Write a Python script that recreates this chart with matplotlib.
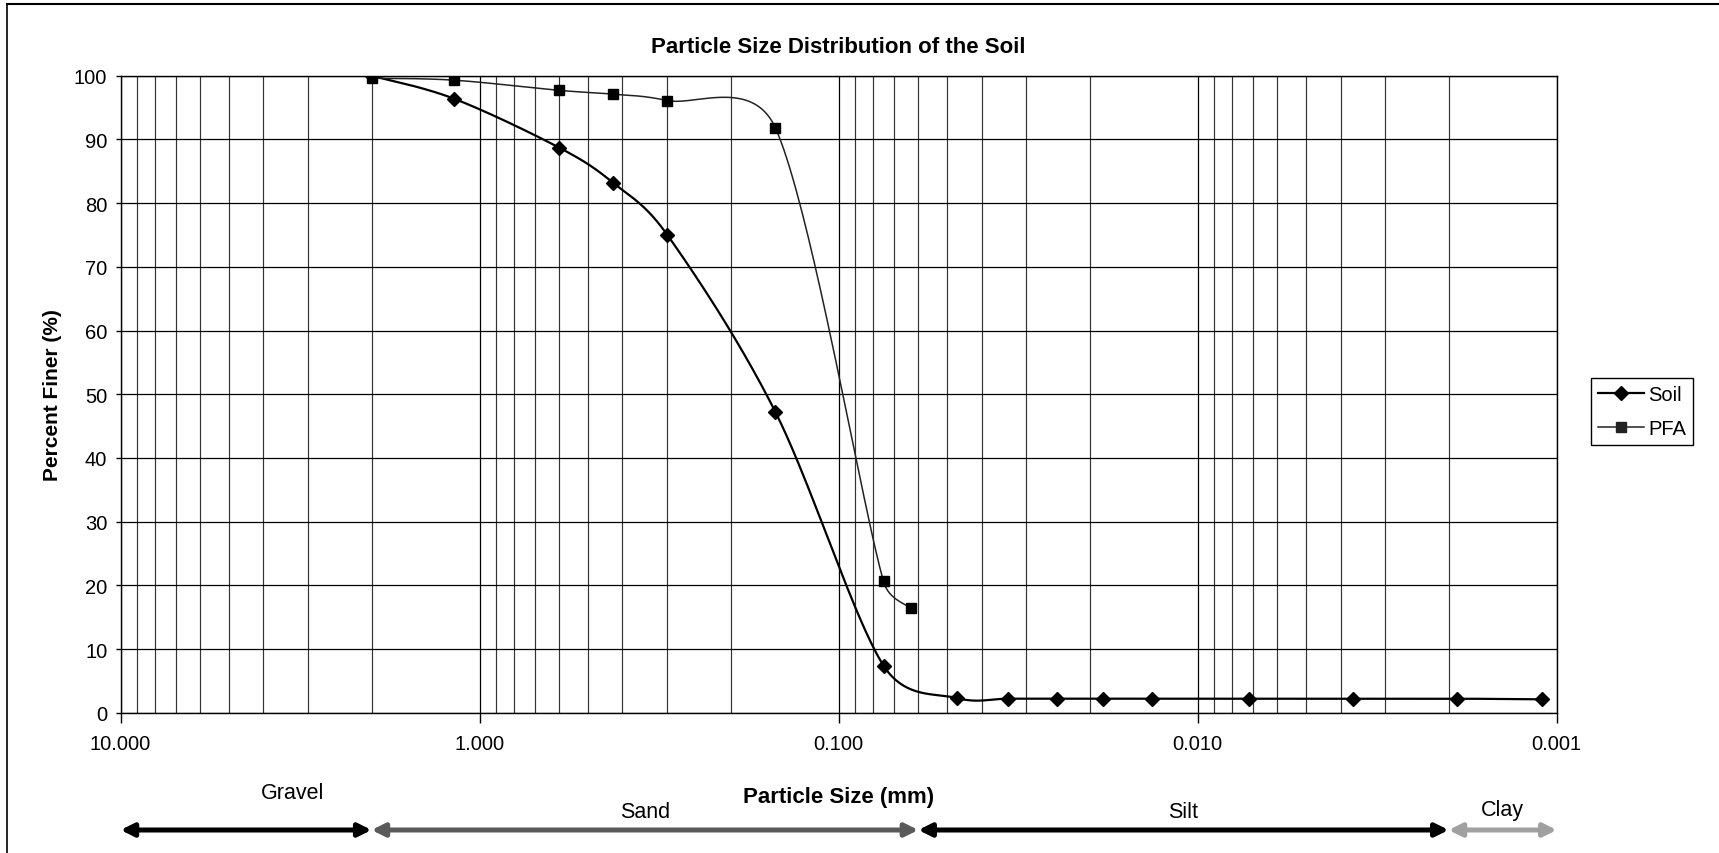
import numpy as np
import matplotlib
matplotlib.use("Agg")
import matplotlib.pyplot as plt
import matplotlib.transforms as mtransforms
from matplotlib.lines import Line2D
from matplotlib.ticker import FixedLocator, FuncFormatter, LogLocator, NullFormatter

plt.rcParams['font.family'] = ['Liberation Sans', 'DejaVu Sans']

# Sieve analysis + hydrometer results (particle size in mm, percent finer)
soil_size = [2.0, 1.18, 0.6, 0.425, 0.3, 0.15, 0.075,
             0.0468, 0.0338, 0.0247, 0.0183, 0.0134, 0.0072, 0.0037, 0.0019, 0.0011]
soil_finer = [100.0, 96.4, 88.7, 83.2, 75.0, 47.2, 7.4,
              2.3, 2.2, 2.2, 2.2, 2.2, 2.2, 2.2, 2.2, 2.1]

pfa_size = [2.0, 1.18, 0.6, 0.425, 0.3, 0.15, 0.075, 0.063]
pfa_finer = [99.6, 99.3, 97.7, 97.1, 96.1, 91.8, 20.6, 16.4]

x_ticks = [10, 1, 0.1, 0.01, 0.001]
y_ticks = list(range(0, 101, 10))

# Soil classification bands (boundaries in mm)
bands = ["Gravel", "Sand", "Silt", "Clay"]
band_edges = [10, 2.0, 0.06, 0.002, 0.001]
band_colors = ["black", "#5a5a5a", "black", "#a0a0a0"]


def smooth(ax, xs, ys, n=40):
    """Smoothed line through every point: cubic Bezier segments built in screen
    space, with each control arm capped at half of its segment length."""
    P = ax.transData.transform(np.column_stack([xs, ys]))
    out = [P[0]]
    t = np.linspace(0, 1, n)[1:, None]
    for i in range(len(P) - 1):
        p0 = P[i - 1] if i > 0 else P[i]
        p1, p2 = P[i], P[i + 1]
        p3 = P[i + 2] if i + 2 < len(P) else P[i + 1]
        d12 = np.hypot(*(p2 - p1))
        d02 = np.hypot(*(p2 - p0))
        d13 = np.hypot(*(p3 - p1))
        f1 = min(1 / 6, 0.5 * d12 / d02) if d02 > 0 else 0
        f2 = min(1 / 6, 0.5 * d12 / d13) if d13 > 0 else 0
        c1 = p1 + (p2 - p0) * f1
        c2 = p2 - (p3 - p1) * f2
        seg = ((1 - t) ** 3) * p1 + 3 * ((1 - t) ** 2) * t * c1 \
            + 3 * (1 - t) * t ** 2 * c2 + t ** 3 * p2
        out.extend(seg)
    data = ax.transData.inverted().transform(np.array(out))
    return data[:, 0], data[:, 1]


W, H = 1719, 854
fig = plt.figure(figsize=(W / 100, H / 100), dpi=100)
left, right = 120.6 / W, 1556.7 / W
bottom, top = 1 - 713.7 / H, 1 - 76.7 / H
ax = fig.add_axes([left, bottom, right - left, top - bottom])

ax.set_xscale('log')
ax.set_xlim(10, 0.001)
ax.set_ylim(0, 100)

ax.xaxis.set_major_locator(FixedLocator(x_ticks))
ax.xaxis.set_major_formatter(FuncFormatter(lambda v, p: f"{v:.3f}"))
ax.xaxis.set_minor_locator(LogLocator(base=10, subs=np.arange(2, 10), numticks=50))
ax.xaxis.set_minor_formatter(NullFormatter())
ax.yaxis.set_major_locator(FixedLocator(y_ticks))

ax.grid(True, which='major', axis='both', color='black', lw=0.9)
ax.grid(True, which='minor', axis='x', color='#333333', lw=0.85)
ax.set_axisbelow(True)

ax.tick_params(axis='x', which='major', direction='out', length=7, width=1,
               labelsize=14.5, pad=8)
ax.tick_params(axis='x', which='minor', length=0)
ax.tick_params(axis='y', direction='out', length=3.6, width=1, labelsize=14.5, pad=6)
for s in ax.spines.values():
    s.set_color('black')
    s.set_linewidth(1.0)

sx, sy = smooth(ax, soil_size, soil_finer)
ax.plot(sx, sy, color='black', lw=1.6, zorder=3)
ax.plot(soil_size, soil_finer, ls='none', marker='D', ms=7.5, color='black', zorder=4)

px, py = smooth(ax, pfa_size, pfa_finer)
ax.plot(px, py, color='#222222', lw=1.1, zorder=3)
ax.plot(pfa_size, pfa_finer, ls='none', marker='s', ms=7, color='black', zorder=4)

ax.set_title("Particle Size Distribution of the Soil", fontsize=16, fontweight='bold', pad=17)
ax.set_xlabel("Particle Size (mm)", fontsize=16, fontweight='bold')
ax.xaxis.set_label_coords(0.5, -0.115)
ax.set_ylabel("Percent Finer (%)", fontsize=15, fontweight='bold')
ax.yaxis.set_label_coords(-0.041, 0.5)

# Legend
handles = [Line2D([], [], color='black', lw=1.6, marker='D', ms=7),
           Line2D([], [], color='#222222', lw=1.1, marker='s', ms=6.5)]
fig.legend(handles, ["Soil", "PFA"], loc='center left',
           bbox_to_anchor=(1591 / W, 1 - 412.5 / H), fontsize=14.5,
           frameon=True, fancybox=False, edgecolor='black', framealpha=1,
           handlelength=2.3, handletextpad=0.2, borderpad=0.35, labelspacing=0.78,
           borderaxespad=0)

# Classification arrows below the axis
trans = mtransforms.blended_transform_factory(ax.transData, fig.transFigure)
arrow_y = 1 - 831 / H
label_y = [1 - 794 / H, 1 - 813 / H, 1 - 813 / H, 1 - 811 / H]
label_shift = [1.35, 1.0, 1.0, 1.0]
for i, name in enumerate(bands):
    a, b = band_edges[i], band_edges[i + 1]
    col = band_colors[i]
    ax.annotate("", xy=(b, arrow_y), xytext=(a, arrow_y), xycoords=trans,
                textcoords=trans, annotation_clip=False,
                arrowprops=dict(arrowstyle='<|-|>', color=col, lw=3.6,
                                mutation_scale=19, shrinkA=0, shrinkB=0))
    cx = np.sqrt(a * b) / label_shift[i]
    ax.text(cx, label_y[i], name, transform=trans, ha='center', va='center',
            fontsize=15.5, clip_on=False)

# Outer chart border (top and left edges)
fig.add_artist(Line2D([7 / W, 1], [1 - 5 / H, 1 - 5 / H], color='black', lw=1.5,
                      transform=fig.transFigure))
fig.add_artist(Line2D([7 / W, 7 / W], [0, 1 - 5 / H], color='black', lw=1.2,
                      transform=fig.transFigure))

fig.savefig("out.png", dpi=100, facecolor='white')
